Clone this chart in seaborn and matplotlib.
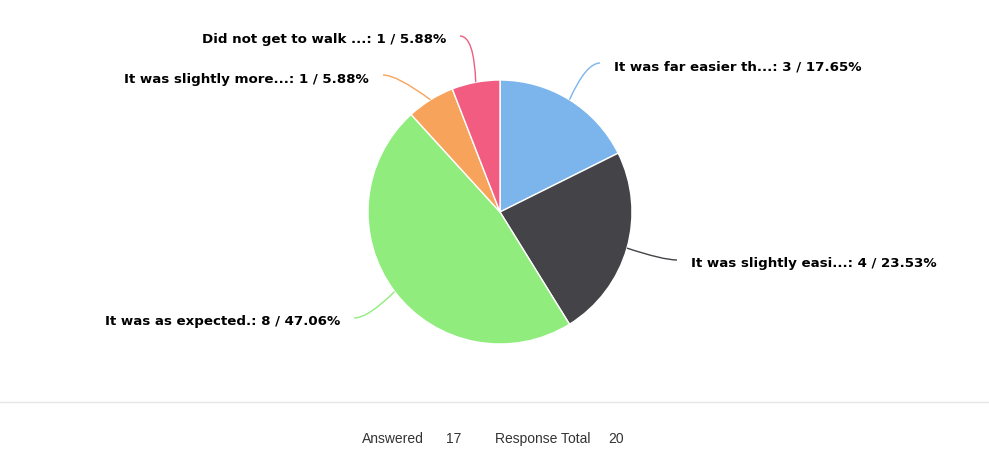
import numpy as np
import matplotlib
matplotlib.use("Agg")
import matplotlib.pyplot as plt
from matplotlib.path import Path
from matplotlib.patches import PathPatch
import seaborn as sns

# ---- data ----
categories = [
    "It was far easier th...",
    "It was slightly easi...",
    "It was as expected.",
    "It was slightly more...",
    "Did not get to walk ...",
]
counts = [3, 4, 8, 1, 1]
answered = 17
response_total = 20
colors = ["#7cb5ec", "#434348", "#90ed7d", "#f7a35c", "#f15c80"]

sns.set_theme(style="white")
plt.rcParams["font.family"] = ["DejaVu Sans"]

W, H = 989, 461
fig = plt.figure(figsize=(W / 100, H / 100), dpi=100)
ax = fig.add_axes([0, 0, 1, 1])

cx, cy, r = 500, H - 212, 132
wedges, _ = ax.pie(counts, colors=colors, startangle=90, counterclock=False,
                   center=(cx, cy), radius=r,
                   wedgeprops=dict(edgecolor="white", linewidth=1))
ax.set_xlim(0, W)
ax.set_ylim(0, H)
ax.set_aspect("equal")
ax.axis("off")

total = sum(counts)
# label connector end points (pixel coords, y down) and text side
label_layout = [
    ((600, 63), "left"),
    ((677, 260), "left"),
    ((354, 318), "right"),
    ((383, 75), "right"),
    ((460, 36), "right"),
]
for w, cat, n, col, ((ex, ey), side) in zip(wedges, categories, counts, colors, label_layout):
    mid = np.deg2rad((w.theta1 + w.theta2) / 2)
    sx, sy = cx + r * np.cos(mid), cy + r * np.sin(mid)
    ey_d = H - ey
    d = 1 if side == "left" else -1
    ctrl = (ex - d * 14, ey_d)
    path = Path([(sx, sy), ctrl, (ex, ey_d)], [Path.MOVETO, Path.CURVE3, Path.CURVE3])
    ax.add_patch(PathPatch(path, fill=False, edgecolor=col, linewidth=1))
    pct = n / total * 100
    txt = f"{cat}: {n} / {pct:.2f}%"
    tx = ex + d * 14
    ax.text(tx, ey_d - 4, txt, ha=side, va="center", fontsize=9.6,
            fontweight="bold", color="#000000")

# footer
fig.add_artist(plt.Line2D([0, 1], [1 - 402 / H, 1 - 402 / H], color="#e6e6e6", linewidth=1))
fy = H - 439
ff = ["Liberation Sans", "DejaVu Sans"]
for x, s in [(362, "Answered"), (446, str(answered)), (495, "Response Total"), (608, str(response_total))]:
    ax.text(x, fy, s, ha="left", va="center", fontsize=10, color="#333333", family=ff)

fig.savefig("out.png", dpi=100)
